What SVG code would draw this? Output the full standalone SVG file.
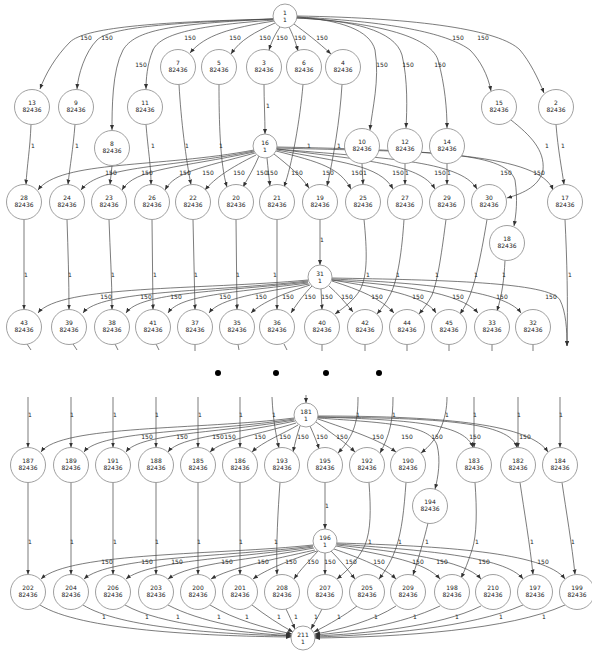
<svg xmlns="http://www.w3.org/2000/svg" width="592" height="652" viewBox="0 0 592 652">
<defs>
<marker id="a" viewBox="0 0 10 10" refX="10" refY="5" markerWidth="5" markerHeight="5" orient="auto" markerUnits="userSpaceOnUse"><path d="M0,1 L10,5 L0,9 z" fill="#333"/></marker>
<style>
.node circle{fill:#fff;stroke:#888;stroke-width:0.8}
.node text{font-family:"DejaVu Sans",sans-serif;font-size:6px;fill:#222;text-anchor:middle}
.e path{fill:none;stroke:#444;stroke-width:0.7;marker-end:url(#a)}
.e path.s{marker-end:none}
.e text{font-family:"DejaVu Sans",sans-serif;font-size:6px;fill:#222;text-anchor:middle}
.dot{fill:#000}
</style>
</defs>
<rect width="592" height="652" fill="#fff"/>
<g id="connectors" class="e">
<!-- 1 -> level A/B/C -->
<path d="M273,19 C150,22 85,28 70,42 C55,57 45,75 40,89"/>
<path d="M273,19 C160,23 110,28 97,40 C85,52 78,75 77,89"/>
<path d="M273,19 C170,24 135,30 123,50 C112,70 112,110 112,130"/>
<path d="M274,20 C190,26 160,35 153,50 C147,64 146,80 146,89"/>
<path d="M274,21 C230,28 205,35 190,53"/>
<path d="M275,23 C255,32 240,40 231,54"/>
<path d="M280,27 C276,33 272,40 269,50"/>
<path d="M289,27 C292,33 295,40 298,51"/>
<path d="M294,24 C305,32 318,42 331,54"/>
<path d="M297,17 C340,20 370,30 375,50 C380,80 372,110 370,130"/>
<path d="M297,18 C350,20 395,30 402,55 C408,80 407,110 406,128"/>
<path d="M297,18 C370,22 430,35 438,60 C445,85 447,110 447,128"/>
<path d="M297,17 C400,22 450,35 470,50 C480,60 488,75 491,91"/>
<path d="M297,16 C420,18 500,30 520,50 C530,62 538,78 544,93"/>
<text x="86" y="40">150</text><text x="107" y="40">150</text><text x="190" y="40">150</text><text x="235" y="40">150</text>
<text x="265" y="40">150</text><text x="282" y="40">150</text><text x="300" y="40">150</text><text x="322" y="40">150</text>
<text x="458" y="40">150</text><text x="483" y="40">150</text>
<text x="141" y="67">150</text><text x="382" y="67">150</text><text x="408" y="67">150</text><text x="440" y="67">150</text>
<!-- level 1 -> level 2 -->
<path d="M31,124.5 C30,150 27,165 26,184.5"/>
<path d="M75,124.5 C73,150 70,165 68,184.5"/>
<path d="M112,165.5 L110,184.5"/>
<path d="M146,124.5 C148,150 151,165 151,184.5"/>
<path d="M179,84.5 C181,120 186,160 191,184.6"/>
<path d="M219,84.5 C219,120 220,165 227,187"/>
<path d="M264,84.5 C264,100 265,118 265,134"/>
<path d="M303,84.5 C300,120 292,165 284,187"/>
<path d="M342,84.5 C340,120 333,160 327,186"/>
<path d="M362,163.5 L363,184.5"/>
<path d="M405,163.5 L405,184.5"/>
<path d="M447,163.5 L447,184.5"/>
<path d="M511,120 C530,135 545,150 543,170 C540,185 525,193 507,198"/>
<path d="M556,124.5 C558,150 562,170 564,184.5"/>
<text x="33" y="148">1</text><text x="77" y="148">1</text><text x="153" y="148">1</text><text x="187" y="148">1</text>
<text x="221" y="148">1</text><text x="268" y="108">1</text><text x="309" y="148">1</text><text x="339" y="148">1</text>
<text x="547" y="148">1</text><text x="563" y="148">1</text>
<!-- 16 -> level 2 -->
<path d="M254,150 C160,168 60,160 38,190"/>
<path d="M254,151 C170,168 100,165 81,190"/>
<path d="M254,152 C180,168 135,168 122,190"/>
<path d="M255,153 C200,168 175,172 165,190"/>
<path d="M256,155 C230,168 215,178 205,190"/>
<path d="M259,156 C254,168 248,178 243,187"/>
<path d="M267,158 C268,168 269,178 270,186"/>
<path d="M274,154 C288,165 300,175 309,188"/>
<path d="M276,151 C320,162 340,168 351,189"/>
<path d="M277,150 C340,162 380,165 393,189"/>
<path d="M277,149 C360,160 420,163 435,189"/>
<path d="M277,149 C380,158 460,160 477,189"/>
<path d="M277,148 C420,152 505,150 515,180 C518,200 516,215 514,226"/>
<path d="M277,147 C430,150 540,155 553,190"/>
<text x="111" y="175">150</text><text x="147" y="175">150</text><text x="185" y="175">150</text><text x="208" y="175">150</text>
<text x="239" y="175">150</text><text x="262" y="175">150</text><text x="272" y="175">150</text><text x="297" y="175">150</text>
<text x="328" y="175">150</text><text x="357" y="175">150</text><text x="398" y="175">150</text><text x="440" y="175">150</text>
<text x="506" y="175">150</text><text x="539" y="175">150</text>
<text x="365" y="175">1</text><text x="407" y="175">1</text><text x="449" y="175">1</text>
<!-- level 2 -> level 3 -->
<path d="M24,219.5 L24,309.5"/>
<path d="M67,219.5 C68,250 69,280 69,309.5"/>
<path d="M109,219.5 C110,250 112,280 112,309.5"/>
<path d="M152,219.5 L153,309.5"/>
<path d="M193,219.5 L195,309.5"/>
<path d="M236,219.5 L237,309.5"/>
<path d="M277,219.5 L277,309.5"/>
<path d="M320,219.5 L320,265"/>
<path d="M364,219.5 C367,250 368,275 360,290 C354,300 345,307 335,314"/>
<path d="M404,219.5 C402,250 398,280 390,295 C386,303 382,308 377,314"/>
<path d="M446,219.5 C442,250 438,280 432,295 C428,303 424,308 419,314"/>
<path d="M487,219.5 C482,250 476,280 470,295 C467,303 464,308 460,314"/>
<path d="M505,260.5 C504,280 502,295 497,311"/>
<path d="M565,219.5 C567,260 568,300 567,346"/>
<text x="26" y="277">1</text><text x="70" y="277">1</text><text x="113" y="277">1</text><text x="155" y="277">1</text>
<text x="196" y="277">1</text><text x="238" y="277">1</text><text x="275" y="277">1</text><text x="322" y="242">1</text>
<text x="368" y="277">1</text><text x="398" y="277">1</text><text x="437" y="277">1</text><text x="476" y="277">1</text>
<text x="504" y="277">1</text><text x="570" y="277">1</text>
<!-- 31 -> level 3 -->
<path d="M308,280 C200,290 60,285 38,313"/>
<path d="M308,281 C210,292 100,290 83,313"/>
<path d="M308,282 C220,292 140,292 126,313"/>
<path d="M308,283 C230,293 180,295 168,313"/>
<path d="M309,284 C260,293 220,298 209,313"/>
<path d="M310,285 C285,293 262,302 251,313"/>
<path d="M312,286 C305,293 298,302 291,313"/>
<path d="M321,289 L322,309.5"/>
<path d="M329,286 C337,293 345,302 353,312"/>
<path d="M332,281 C360,290 380,298 394,313"/>
<path d="M332,280 C380,288 425,295 436,313"/>
<path d="M332,280 C400,285 460,292 478,313"/>
<path d="M332,279 C420,283 505,290 521,313"/>
<path d="M332,278 C440,280 550,282 560,300 C566,312 567,330 567,346"/>
<text x="106" y="299">150</text><text x="146" y="299">150</text><text x="176" y="299">150</text><text x="225" y="299">150</text>
<text x="261" y="299">150</text><text x="288" y="299">150</text><text x="310" y="299">150</text><text x="327" y="299">150</text>
<text x="347" y="299">150</text><text x="377" y="299">150</text><text x="418" y="299">150</text><text x="458" y="299">150</text>
<text x="502" y="299">150</text><text x="551" y="299">150</text>
<!-- stubs below level 3 -->
<path class="s" d="M27,344 L31,350"/><path class="s" d="M73,344 L77,350"/><path class="s" d="M115,344 L118,350"/>
<path class="s" d="M156,344 L159,350"/><path class="s" d="M195,344.5 L195,351"/><path class="s" d="M238,344.5 L239,350"/>
<path class="s" d="M284,344 L287,350"/><path class="s" d="M322,344.5 L322,351"/><path class="s" d="M365,344.5 L365,351"/>
<path class="s" d="M407,344.5 L407,351"/><path class="s" d="M449,344.5 L449,351"/><path class="s" d="M492,344.5 L492,351"/>
<path class="s" d="M533,344.5 L533,351"/>
<!-- lower section: incoming stubs -->
<path d="M28,397 L28,447.5"/>
<path d="M71,397 L71,447.5"/>
<path d="M113,397 L113,447.5"/>
<path d="M156,397 L156,447.5"/>
<path d="M198,397 L198,447.5"/>
<path d="M240,397 L240,447.5"/>
<path d="M272,397 C273,420 276,435 279,448"/>
<path d="M306,395 L306,403"/>
<path d="M358,397 C358,420 355,435 338,453"/>
<path d="M393,397 C393,420 390,435 380,453"/>
<path d="M447,397 C447,420 438,440 421,453"/>
<path d="M474,397 L474,447.5"/>
<path d="M518,397 L518,447.5"/>
<path d="M560,397 L560,447.5"/>
<text x="30" y="417">1</text><text x="72" y="417">1</text><text x="115" y="417">1</text><text x="157" y="417">1</text>
<text x="200" y="417">1</text><text x="241" y="417">1</text><text x="274" y="417">1</text><text x="358" y="417">1</text>
<text x="394" y="417">1</text><text x="447" y="417">1</text><text x="475" y="417">1</text><text x="519" y="417">1</text>
<text x="561" y="417">1</text>
<!-- 181 -> level 4 -->
<path d="M294,418 C200,430 60,425 41,452"/>
<path d="M294,419 C210,432 100,430 84,452"/>
<path d="M294,420 C220,433 140,433 126,452"/>
<path d="M295,421 C235,434 180,436 168,452"/>
<path d="M296,423 C260,434 222,440 210,452"/>
<path d="M298,425 C285,433 262,442 252,452"/>
<path d="M300,426 C297,435 295,443 293,452"/>
<path d="M310,426 C314,435 317,442 319,449"/>
<path d="M316,422 C330,432 345,442 355,452"/>
<path d="M318,419 C350,430 380,440 396,452"/>
<path d="M318,418 C390,423 430,425 437,445 C441,460 438,478 435,489"/>
<path d="M318,417 C420,420 465,425 473,447.5"/>
<path d="M318,417 C440,418 510,422 517,447.5"/>
<path d="M318,416 C450,416 530,425 548,452"/>
<text x="147" y="439">150</text><text x="182" y="439">150</text><text x="218" y="439">150</text><text x="230" y="439">150</text>
<text x="260" y="439">150</text><text x="285" y="439">150</text><text x="303" y="439">150</text><text x="322" y="439">150</text>
<text x="342" y="439">150</text><text x="378" y="439">150</text><text x="407" y="439">150</text><text x="437" y="439">150</text>
<text x="475" y="439">150</text><text x="525" y="439">150</text>
<!-- level 4 -> level 5 -->
<path d="M28,482.5 L28,574.5"/>
<path d="M71,482.5 L71,574.5"/>
<path d="M113,482.5 L113,574.5"/>
<path d="M156,482.5 L156,574.5"/>
<path d="M198,482.5 L198,574.5"/>
<path d="M240,482.5 L240,574.5"/>
<path d="M280,482.5 C278,510 276,545 277,574.5"/>
<path d="M325,482.5 L325,529"/>
<path d="M369,482.5 C371,510 371,530 365,545 C358,560 348,570 337,579"/>
<path d="M406,482.5 C404,510 402,530 396,548 C392,560 386,570 379,579"/>
<path d="M428,523 C424,540 418,560 413,575"/>
<path d="M475,482.5 C477,510 477,535 472,550 C468,562 465,570 461,578"/>
<path d="M520,482.5 C524,510 530,545 533,574.5"/>
<path d="M562,482.5 C566,510 572,545 575,574.5"/>
<text x="30" y="544">1</text><text x="72" y="544">1</text><text x="115" y="544">1</text><text x="157" y="544">1</text>
<text x="199" y="544">1</text><text x="241" y="544">1</text><text x="276" y="544">1</text><text x="327" y="508">1</text>
<text x="370" y="544">1</text><text x="400" y="544">1</text><text x="427" y="544">1</text><text x="477" y="544">1</text>
<text x="532" y="544">1</text><text x="573" y="544">1</text>
<!-- 196 -> level 5 -->
<path d="M313,545 C220,555 70,552 41,579"/>
<path d="M313,546 C230,557 110,556 84,579"/>
<path d="M313,547 C240,558 150,560 126,579"/>
<path d="M314,548 C250,560 190,563 168,579"/>
<path d="M315,550 C270,560 230,568 211,579"/>
<path d="M317,551 C290,560 265,570 253,579"/>
<path d="M318,551 C310,560 300,570 294,579"/>
<path d="M325,553 L325,574.5"/>
<path d="M331,551 C340,560 348,570 355,579"/>
<path d="M334,549 C360,558 385,568 396,579"/>
<path d="M336,546 C390,556 425,562 440,579"/>
<path d="M337,545 C400,552 465,560 481,579"/>
<path d="M337,544 C420,550 505,556 523,579"/>
<path d="M337,543 C440,546 545,552 565,579"/>
<text x="107" y="564">150</text><text x="147" y="564">150</text><text x="177" y="564">150</text><text x="227" y="564">150</text>
<text x="263" y="564">150</text><text x="291" y="564">150</text><text x="313" y="564">150</text><text x="330" y="564">150</text>
<text x="351" y="564">150</text><text x="379" y="564">150</text><text x="418" y="564">150</text><text x="442" y="564">150</text>
<text x="484" y="564">150</text><text x="543" y="564">150</text>
<!-- level 5 -> 211 -->
<path d="M40,605 C80,630 200,636 291,637"/>
<path d="M83,605 C120,628 220,634 291,636"/>
<path d="M125,605 C160,625 240,632 291,636"/>
<path d="M168,605 C200,622 250,630 291,635"/>
<path d="M210,605 C235,620 265,628 292,634"/>
<path d="M252,605 C265,615 280,625 293,632"/>
<path d="M286,609 C289,615 292,622 295,629"/>
<path d="M322,609 C319,615 315,622 311,629"/>
<path d="M357,606 C345,615 330,624 314,632"/>
<path d="M396,606 C375,620 340,630 315,634"/>
<path d="M440,606 C400,625 350,632 315,635"/>
<path d="M481,606 C440,627 360,634 315,636"/>
<path d="M523,605 C470,628 380,635 315,637"/>
<path d="M565,605 C510,630 400,637 315,638"/>
<text x="104" y="619">1</text><text x="147" y="619">1</text><text x="178" y="619">1</text><text x="219" y="619">1</text>
<text x="247" y="619">1</text><text x="279" y="619">1</text><text x="296" y="619">1</text><text x="316" y="619">1</text>
<text x="339" y="619">1</text><text x="376" y="619">1</text><text x="415" y="619">1</text><text x="457" y="619">1</text>
<text x="501" y="619">1</text><text x="544" y="619">1</text>
</g>
<g id="dots">
<circle class="dot" cx="218" cy="373" r="3"/><circle class="dot" cx="276" cy="373" r="3"/>
<circle class="dot" cx="326" cy="373" r="3"/><circle class="dot" cx="379" cy="373" r="3"/>
</g>
<g id="nodes">
<g id="n1" class="node"><circle cx="285" cy="16" r="12"/><text x="285" y="15.2">1</text><text x="285" y="22.2">1</text></g>
<g id="n16" class="node"><circle cx="265" cy="146" r="12"/><text x="265" y="145.2">16</text><text x="265" y="152.2">1</text></g>
<g id="n31" class="node"><circle cx="320" cy="277" r="12"/><text x="320" y="276.2">31</text><text x="320" y="283.2">1</text></g>
<g id="n181" class="node"><circle cx="306" cy="415" r="12"/><text x="306" y="414.2">181</text><text x="306" y="421.2">1</text></g>
<g id="n196" class="node"><circle cx="325" cy="541" r="12"/><text x="325" y="540.2">196</text><text x="325" y="547.2">1</text></g>
<g id="n211" class="node"><circle cx="303" cy="638" r="12"/><text x="303" y="637.2">211</text><text x="303" y="644.2">1</text></g>
<g id="n7" class="node"><circle cx="178" cy="67" r="17.5"/><text x="178" y="65.2">7</text><text x="178" y="72.2">82436</text></g>
<g id="n5" class="node"><circle cx="219" cy="67" r="17.5"/><text x="219" y="65.2">5</text><text x="219" y="72.2">82436</text></g>
<g id="n3" class="node"><circle cx="264" cy="67" r="17.5"/><text x="264" y="65.2">3</text><text x="264" y="72.2">82436</text></g>
<g id="n6" class="node"><circle cx="304" cy="67" r="17.5"/><text x="304" y="65.2">6</text><text x="304" y="72.2">82436</text></g>
<g id="n4" class="node"><circle cx="343" cy="67" r="17.5"/><text x="343" y="65.2">4</text><text x="343" y="72.2">82436</text></g>
<g id="n13" class="node"><circle cx="32" cy="107" r="17.5"/><text x="32" y="105.2">13</text><text x="32" y="112.2">82436</text></g>
<g id="n9" class="node"><circle cx="76" cy="107" r="17.5"/><text x="76" y="105.2">9</text><text x="76" y="112.2">82436</text></g>
<g id="n11" class="node"><circle cx="145" cy="107" r="17.5"/><text x="145" y="105.2">11</text><text x="145" y="112.2">82436</text></g>
<g id="n15" class="node"><circle cx="499" cy="107" r="17.5"/><text x="499" y="105.2">15</text><text x="499" y="112.2">82436</text></g>
<g id="n2" class="node"><circle cx="556" cy="107" r="17.5"/><text x="556" y="105.2">2</text><text x="556" y="112.2">82436</text></g>
<g id="n8" class="node"><circle cx="112" cy="148" r="17.5"/><text x="112" y="146.2">8</text><text x="112" y="153.2">82436</text></g>
<g id="n10" class="node"><circle cx="362" cy="146" r="17.5"/><text x="362" y="144.2">10</text><text x="362" y="151.2">82436</text></g>
<g id="n12" class="node"><circle cx="405" cy="146" r="17.5"/><text x="405" y="144.2">12</text><text x="405" y="151.2">82436</text></g>
<g id="n14" class="node"><circle cx="447" cy="146" r="17.5"/><text x="447" y="144.2">14</text><text x="447" y="151.2">82436</text></g>
<g id="n28" class="node"><circle cx="24" cy="202" r="17.5"/><text x="24" y="200.2">28</text><text x="24" y="207.2">82436</text></g>
<g id="n24" class="node"><circle cx="67" cy="202" r="17.5"/><text x="67" y="200.2">24</text><text x="67" y="207.2">82436</text></g>
<g id="n23" class="node"><circle cx="109" cy="202" r="17.5"/><text x="109" y="200.2">23</text><text x="109" y="207.2">82436</text></g>
<g id="n26" class="node"><circle cx="152" cy="202" r="17.5"/><text x="152" y="200.2">26</text><text x="152" y="207.2">82436</text></g>
<g id="n22" class="node"><circle cx="193" cy="202" r="17.5"/><text x="193" y="200.2">22</text><text x="193" y="207.2">82436</text></g>
<g id="n20" class="node"><circle cx="236" cy="202" r="17.5"/><text x="236" y="200.2">20</text><text x="236" y="207.2">82436</text></g>
<g id="n21" class="node"><circle cx="277" cy="202" r="17.5"/><text x="277" y="200.2">21</text><text x="277" y="207.2">82436</text></g>
<g id="n19" class="node"><circle cx="320" cy="202" r="17.5"/><text x="320" y="200.2">19</text><text x="320" y="207.2">82436</text></g>
<g id="n25" class="node"><circle cx="363" cy="202" r="17.5"/><text x="363" y="200.2">25</text><text x="363" y="207.2">82436</text></g>
<g id="n27" class="node"><circle cx="405" cy="202" r="17.5"/><text x="405" y="200.2">27</text><text x="405" y="207.2">82436</text></g>
<g id="n29" class="node"><circle cx="447" cy="202" r="17.5"/><text x="447" y="200.2">29</text><text x="447" y="207.2">82436</text></g>
<g id="n30" class="node"><circle cx="489" cy="202" r="17.5"/><text x="489" y="200.2">30</text><text x="489" y="207.2">82436</text></g>
<g id="n17" class="node"><circle cx="565" cy="202" r="17.5"/><text x="565" y="200.2">17</text><text x="565" y="207.2">82436</text></g>
<g id="n18" class="node"><circle cx="507" cy="243" r="17.5"/><text x="507" y="241.2">18</text><text x="507" y="248.2">82436</text></g>
<g id="n43" class="node"><circle cx="24" cy="327" r="17.5"/><text x="24" y="325.2">43</text><text x="24" y="332.2">82436</text></g>
<g id="n39" class="node"><circle cx="69" cy="327" r="17.5"/><text x="69" y="325.2">39</text><text x="69" y="332.2">82436</text></g>
<g id="n38" class="node"><circle cx="112" cy="327" r="17.5"/><text x="112" y="325.2">38</text><text x="112" y="332.2">82436</text></g>
<g id="n41" class="node"><circle cx="153" cy="327" r="17.5"/><text x="153" y="325.2">41</text><text x="153" y="332.2">82436</text></g>
<g id="n37" class="node"><circle cx="195" cy="327" r="17.5"/><text x="195" y="325.2">37</text><text x="195" y="332.2">82436</text></g>
<g id="n35" class="node"><circle cx="237" cy="327" r="17.5"/><text x="237" y="325.2">35</text><text x="237" y="332.2">82436</text></g>
<g id="n36" class="node"><circle cx="277" cy="327" r="17.5"/><text x="277" y="325.2">36</text><text x="277" y="332.2">82436</text></g>
<g id="n40" class="node"><circle cx="322" cy="327" r="17.5"/><text x="322" y="325.2">40</text><text x="322" y="332.2">82436</text></g>
<g id="n42" class="node"><circle cx="365" cy="327" r="17.5"/><text x="365" y="325.2">42</text><text x="365" y="332.2">82436</text></g>
<g id="n44" class="node"><circle cx="407" cy="327" r="17.5"/><text x="407" y="325.2">44</text><text x="407" y="332.2">82436</text></g>
<g id="n45" class="node"><circle cx="449" cy="327" r="17.5"/><text x="449" y="325.2">45</text><text x="449" y="332.2">82436</text></g>
<g id="n33" class="node"><circle cx="492" cy="327" r="17.5"/><text x="492" y="325.2">33</text><text x="492" y="332.2">82436</text></g>
<g id="n32" class="node"><circle cx="533" cy="327" r="17.5"/><text x="533" y="325.2">32</text><text x="533" y="332.2">82436</text></g>
<g id="n187" class="node"><circle cx="28" cy="465" r="17.5"/><text x="28" y="463.2">187</text><text x="28" y="470.2">82436</text></g>
<g id="n189" class="node"><circle cx="71" cy="465" r="17.5"/><text x="71" y="463.2">189</text><text x="71" y="470.2">82436</text></g>
<g id="n191" class="node"><circle cx="113" cy="465" r="17.5"/><text x="113" y="463.2">191</text><text x="113" y="470.2">82436</text></g>
<g id="n188" class="node"><circle cx="156" cy="465" r="17.5"/><text x="156" y="463.2">188</text><text x="156" y="470.2">82436</text></g>
<g id="n185" class="node"><circle cx="198" cy="465" r="17.5"/><text x="198" y="463.2">185</text><text x="198" y="470.2">82436</text></g>
<g id="n186" class="node"><circle cx="240" cy="465" r="17.5"/><text x="240" y="463.2">186</text><text x="240" y="470.2">82436</text></g>
<g id="n193" class="node"><circle cx="282" cy="465" r="17.5"/><text x="282" y="463.2">193</text><text x="282" y="470.2">82436</text></g>
<g id="n195" class="node"><circle cx="325" cy="465" r="17.5"/><text x="325" y="463.2">195</text><text x="325" y="470.2">82436</text></g>
<g id="n192" class="node"><circle cx="367" cy="465" r="17.5"/><text x="367" y="463.2">192</text><text x="367" y="470.2">82436</text></g>
<g id="n190" class="node"><circle cx="408" cy="465" r="17.5"/><text x="408" y="463.2">190</text><text x="408" y="470.2">82436</text></g>
<g id="n183" class="node"><circle cx="474" cy="465" r="17.5"/><text x="474" y="463.2">183</text><text x="474" y="470.2">82436</text></g>
<g id="n182" class="node"><circle cx="518" cy="465" r="17.5"/><text x="518" y="463.2">182</text><text x="518" y="470.2">82436</text></g>
<g id="n184" class="node"><circle cx="560" cy="465" r="17.5"/><text x="560" y="463.2">184</text><text x="560" y="470.2">82436</text></g>
<g id="n194" class="node"><circle cx="430" cy="506" r="17.5"/><text x="430" y="504.2">194</text><text x="430" y="511.2">82436</text></g>
<g id="n202" class="node"><circle cx="28" cy="592" r="17.5"/><text x="28" y="590.2">202</text><text x="28" y="597.2">82436</text></g>
<g id="n204" class="node"><circle cx="71" cy="592" r="17.5"/><text x="71" y="590.2">204</text><text x="71" y="597.2">82436</text></g>
<g id="n206" class="node"><circle cx="113" cy="592" r="17.5"/><text x="113" y="590.2">206</text><text x="113" y="597.2">82436</text></g>
<g id="n203" class="node"><circle cx="156" cy="592" r="17.5"/><text x="156" y="590.2">203</text><text x="156" y="597.2">82436</text></g>
<g id="n200" class="node"><circle cx="198" cy="592" r="17.5"/><text x="198" y="590.2">200</text><text x="198" y="597.2">82436</text></g>
<g id="n201" class="node"><circle cx="240" cy="592" r="17.5"/><text x="240" y="590.2">201</text><text x="240" y="597.2">82436</text></g>
<g id="n208" class="node"><circle cx="282" cy="592" r="17.5"/><text x="282" y="590.2">208</text><text x="282" y="597.2">82436</text></g>
<g id="n207" class="node"><circle cx="325" cy="592" r="17.5"/><text x="325" y="590.2">207</text><text x="325" y="597.2">82436</text></g>
<g id="n205" class="node"><circle cx="367" cy="592" r="17.5"/><text x="367" y="590.2">205</text><text x="367" y="597.2">82436</text></g>
<g id="n209" class="node"><circle cx="408" cy="592" r="17.5"/><text x="408" y="590.2">209</text><text x="408" y="597.2">82436</text></g>
<g id="n198" class="node"><circle cx="452" cy="592" r="17.5"/><text x="452" y="590.2">198</text><text x="452" y="597.2">82436</text></g>
<g id="n210" class="node"><circle cx="493" cy="592" r="17.5"/><text x="493" y="590.2">210</text><text x="493" y="597.2">82436</text></g>
<g id="n197" class="node"><circle cx="535" cy="592" r="17.5"/><text x="535" y="590.2">197</text><text x="535" y="597.2">82436</text></g>
<g id="n199" class="node"><circle cx="577" cy="592" r="17.5"/><text x="577" y="590.2">199</text><text x="577" y="597.2">82436</text></g>
</g>
</svg>
